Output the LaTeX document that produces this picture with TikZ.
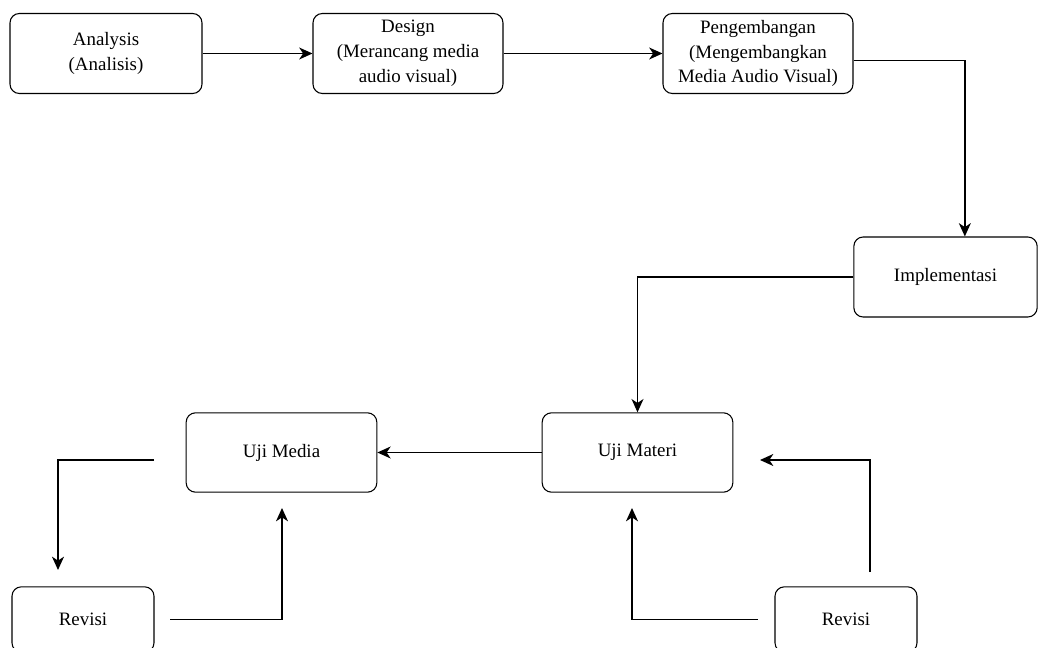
\documentclass[tikz,border=0pt]{standalone}
\usepackage{fontspec}
\setmainfont{Liberation Serif}
\usetikzlibrary{arrows.meta}
\begin{document}
\begin{tikzpicture}[x=0.75pt,y=-0.75pt,
  box/.style={draw,line width=0.8pt,rounded corners=7pt,align=center,inner sep=0pt,
    font=\fontsize{14.2}{18.7}\selectfont},
  arr/.style={line width=1pt,-{Stealth[length=10pt,width=9pt,inset=3pt]}}]
\useasboundingbox (0,0) rectangle (1039,648);

\node[box,minimum width=144pt,minimum height=60pt] (ana) at (106,53.5) {Analysis\\(Analisis)};
\node[box,minimum width=142.5pt,minimum height=60pt] (des) at (408,53.5) {Design\\(Merancang media\\audio visual)};
\node[box,minimum width=142.5pt,minimum height=60pt] (pgb) at (758,53.5) {Pengembangan\\(Mengembangkan\\Media Audio Visual)};
\node[box,minimum width=137.5pt,minimum height=60pt] (imp) at (945.5,277) {Implementasi};
\node[box,minimum width=143pt,minimum height=59.5pt] (ujimed) at (281.5,452.5) {Uji Media};
\node[box,minimum width=143pt,minimum height=59.5pt] (ujimat) at (637.5,452.5) {Uji Materi};
\node[box,minimum width=106.5pt,minimum height=49pt] (revA) at (83,619.5) {Revisi};
\node[box,minimum width=106.5pt,minimum height=49pt] (revB) at (846,619.5) {Revisi};

% free ends of the revision loops
\coordinate (m1) at (154,460);
\coordinate (m2) at (58,570);
\coordinate (m3) at (170,619.5);
\coordinate (m4) at (282,508);
\coordinate (m5) at (758,619.5);
\coordinate (m6) at (632,508);
\coordinate (m7) at (870,572);
\coordinate (m8) at (760,460);

\draw[arr] (ana) -- (des);
\draw[arr] (des) -- (pgb);
\draw[arr] ([yshift=-5.5pt]pgb.east) -| ([xshift=14.5pt]imp.north);
\draw[arr] (imp.west) -| (ujimat.north);
\draw[arr] (ujimat) -- (ujimed);

\draw[arr] (m1) -| (m2);
\draw[arr] (m3) -| (m4);
\draw[arr] (m5) -| (m6);
\draw[arr] (m7) |- (m8);

\end{tikzpicture}
\end{document}
